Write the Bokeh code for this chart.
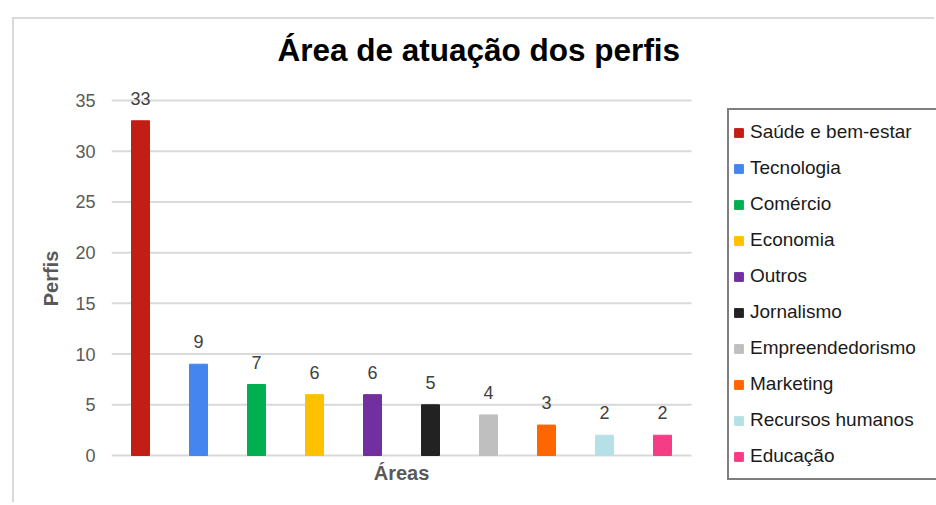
from bokeh.plotting import figure
from bokeh.models import (ColumnDataSource, Range1d, FixedTicker, LabelSet, Label,
                          Legend, LegendItem)
from bokeh.core.properties import value
from bokeh.embed import file_html
from bokeh.resources import INLINE

categories = ["Saúde e bem-estar", "Tecnologia", "Comércio", "Economia", "Outros",
              "Jornalismo", "Empreendedorismo", "Marketing", "Recursos humanos", "Educação"]
values = [33, 9, 7, 6, 6, 5, 4, 3, 2, 2]
colors = ["#C21E16", "#4485F0", "#00B050", "#FFC000", "#7030A0",
          "#222222", "#BFBFBF", "#FF6600", "#B4E0E6", "#F43D85"]
y_ticks = [0, 5, 10, 15, 20, 25, 30, 35]

FONT = "Liberation Sans"
BORDER = "2px solid #d9d9d9"
n = len(categories)

src = ColumnDataSource(dict(
    x=[i + 0.5 for i in range(n)],
    top=values,
    color=colors,
    txt=[str(v) for v in values],
))
grid_src = ColumnDataSource(dict(y=y_ticks))

# layout geometry (page pixels); canvas origin at (14, 19)
PX_X = 58.0            # px per category
PX_Y = 355.0 / 35.0    # px per unit
FRAME_L, FRAME_R, FRAME_T, FRAME_B = 111, 936, 74, 482
ZERO_Y = 455

W, H = 922, 485
p = figure(width=W, height=H, output_backend="svg", toolbar_location=None,
           x_range=Range1d(0, (FRAME_R - FRAME_L) / PX_X),
           y_range=Range1d(-(FRAME_B - ZERO_Y) / PX_Y, (ZERO_Y - FRAME_T) / PX_Y),
           min_border_left=FRAME_L - 14, min_border_right=0,
           min_border_top=FRAME_T - 19, min_border_bottom=H - (FRAME_B - 19),
           styles={"margin-left": "12px", "margin-top": "17px",
                   "border-left": BORDER, "border-top": BORDER})
p.outline_line_color = None
p.background_fill_color = "white"
p.border_fill_color = "white"

# horizontal grid lines across the category area only
p.segment(x0=0, x1=n, y0="y", y1="y", source=grid_src,
          line_color="#d9d9d9", line_width=2)

bars = p.vbar(x="x", top="top", width=0.31, color="color", source=src)

p.add_layout(LabelSet(x="x", y="top", text="txt", source=src, y_offset=16,
                      text_align="center", text_baseline="bottom",
                      text_font=value(FONT), text_font_size=value("18px"),
                      text_color="#404040"))

# y axis
p.yaxis.ticker = FixedTicker(ticks=y_ticks)
p.yaxis.axis_line_color = None
p.yaxis.major_tick_line_color = None
p.yaxis.minor_tick_line_color = None
p.yaxis.major_tick_out = 0
p.yaxis.major_tick_in = 0
p.yaxis.minor_tick_out = 0
p.yaxis.major_label_standoff = 16
p.yaxis.major_label_text_font = FONT
p.yaxis.major_label_text_font_size = "18px"
p.yaxis.major_label_text_color = "#595959"
p.yaxis.axis_label = "Perfis"
p.yaxis.axis_label_text_font = FONT
p.yaxis.axis_label_text_font_style = "bold"
p.yaxis.axis_label_text_font_size = "20px"
p.yaxis.axis_label_text_color = "#595959"
p.yaxis.axis_label_standoff = 10

p.xaxis.visible = False
p.xgrid.grid_line_color = None
p.ygrid.grid_line_color = None

# x axis title
p.add_layout(Label(x=n / 2, y=-(472 - ZERO_Y) / PX_Y, text="Áreas",
                   text_align="center", text_baseline="middle",
                   text_font=FONT, text_font_style="bold",
                   text_font_size="20px", text_color="#595959"))

# title
p.title.text = "Área de atuação dos perfis"
p.title.align = "left"
p.title.offset = 166
p.title.text_font = FONT
p.title.text_font_style = "bold"
p.title.text_font_size = "31.5px"
p.title.text_color = "black"
p.title.standoff = 13

# legend
items = [LegendItem(label=c, renderers=[bars], index=i) for i, c in enumerate(categories)]
lg = Legend(items=items, location=(727 - FRAME_L, FRAME_B - 480))
lg.padding = 4
lg.spacing = 0
lg.margin = 0
lg.label_height = 36
lg.label_width = 182
lg.glyph_height = 11
lg.glyph_width = 11
lg.label_standoff = 6
lg.label_text_font = FONT
lg.label_text_font_size = "19px"
lg.label_text_color = "#1a1a1a"
lg.border_line_color = "black"
lg.border_line_width = 2
lg.background_fill_color = "white"
lg.background_fill_alpha = 1
p.add_layout(lg)

open("out.html", "w").write(file_html(p, INLINE))
